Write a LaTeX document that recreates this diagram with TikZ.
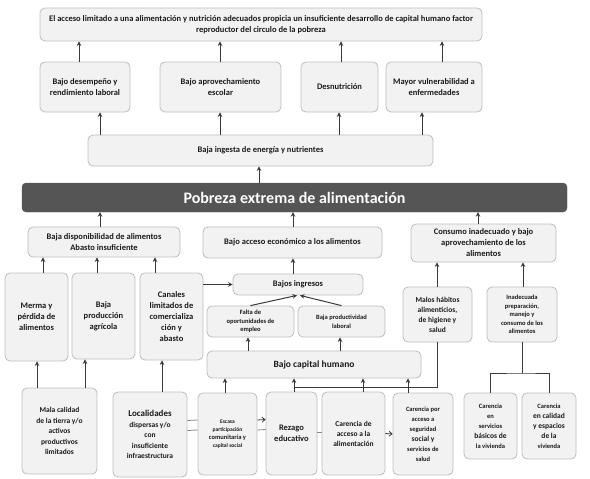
\documentclass[tikz,border=0pt]{standalone}
\usepackage{fontspec}
\setmainfont{Carlito}
\usetikzlibrary{arrows.meta}
\definecolor{boxfill}{HTML}{F2F2F2}
\definecolor{boxline}{HTML}{BDBDBD}
\definecolor{bar}{HTML}{555555}
\definecolor{ink}{HTML}{1A1A1A}
\definecolor{wire}{HTML}{3A3A3A}
\tikzset{
  box/.style={draw=boxline, fill=boxfill, rounded corners=5pt, line width=0.8pt,
    align=center, text=ink, font=\bfseries\fontsize{8.5}{11}\selectfont, inner sep=1pt},
  arr/.style={-{Stealth[length=4.5pt,width=4.5pt]}, draw=wire, line width=1pt},
  ln/.style={draw=wire, line width=1pt},
  sln/.style={draw=boxline!70!black, line width=0.8pt},
  barb/.style={-{Straight Barb[length=3pt,width=5pt]}, draw=wire},
}
\begin{document}
\begin{tikzpicture}[x=1pt,y=-1pt]
\useasboundingbox (0,0) rectangle (590,479);
% top
\node[box, minimum width=442, minimum height=33] (top) at (261,24.5)
 {El acceso limitado a una alimentación y nutrición adecuados propicia un insuficiente desarrollo de capital humano factor\\reproductor del circulo de la pobreza};
% row 2
\node[box, minimum width=90, minimum height=50] (bd) at (85,87) {Bajo desempeño y\\rendimiento laboral};
\node[box, minimum width=121, minimum height=50] (ba) at (220.5,87) {Bajo aprovechamiento\\escolar};
\node[box, minimum width=77, minimum height=50] (desn) at (339.5,87) {Desnutrición};
\node[box, minimum width=96, minimum height=50] (mv) at (434,87) {Mayor vulnerabilidad a\\enfermedades};
% ingesta
\node[box, minimum width=345, minimum height=31] (ing) at (260.5,150.5) {Baja ingesta de energía y nutrientes};
% pobreza
\node[draw=bar, fill=bar, rounded corners=4pt, minimum width=545, minimum height=29, text=white,
  font=\bfseries\fontsize{16}{18}\selectfont] (pob) at (294.5,197.5) {Pobreza extrema de alimentación};
% level 3
\node[box, minimum width=152, minimum height=30] (disp) at (104,242) {Baja disponibilidad de alimentos\\Abasto insuficiente};
\node[box, minimum width=179, minimum height=31] (acc) at (292.5,242.5) {Bajo acceso económico a los alimentos};
\node[box, minimum width=145, minimum height=38] (cons) at (483.5,243) {Consumo inadecuado y bajo\\aprovechamiento de los\\alimentos};
% level 4 left
\node[box, minimum width=63, minimum height=88] (merma) at (36.5,317) {Merma y\\pérdida de\\alimentos};
\node[box, minimum width=63, minimum height=86] (bprod) at (103.5,316) {Baja\\producción\\agrícola};
\node[box, minimum width=63, minimum height=87] (can) at (171.5,316.5) {Canales\\limitados de\\comercializa\\ción y\\abasto};
% middle
\node[box, minimum width=130, minimum height=21] (ingr) at (298,284.5) {Bajos ingresos};
\node[box, minimum width=87, minimum height=31, font=\bfseries\fontsize{6.5}{8.5}\selectfont] (falta) at (250.5,321.5) {Falta de\\oportunidades de\\empleo};
\node[box, minimum width=87, minimum height=31, font=\bfseries\fontsize{6.5}{8.5}\selectfont] (bpl) at (341.5,321.5) {Baja productividad\\laboral};
\node[box, minimum width=214, minimum height=27, font=\bfseries\fontsize{9.5}{11}\selectfont] (cap) at (314,364.5) {Bajo capital humano};
% right
\node[box, minimum width=69, minimum height=55, font=\bfseries\fontsize{7.5}{10}\selectfont] (malos) at (437.5,314.5) {Malos hábitos\\alimenticios,\\de higiene y\\salud};
\node[box, minimum width=70, minimum height=55, font=\bfseries\fontsize{6.5}{8.5}\selectfont] (inad) at (522,314.5) {Inadecuada\\preparación,\\manejo y\\consumo de los\\alimentos};
% bottom
\node[box, minimum width=75, minimum height=86, font=\bfseries\fontsize{7.5}{10.5}\selectfont] (mala) at (59.5,431) {Mala calidad\\de la tierra y/o\\activos\\productivos\\limitados};
\node[box, minimum width=74, minimum height=85, font=\bfseries\fontsize{7.5}{10.5}\selectfont] (loc) at (150,434.5) {{\fontsize{9}{11}\selectfont Localidades}\\dispersas y/o\\con\\insuficiente\\infraestructura};
\node[box, minimum width=59, minimum height=82, font=\bfseries\fontsize{5.5}{8}\selectfont] (esc) at (227.5,434) {Escasa\\participación\\{\fontsize{6.5}{8}\selectfont comunitaria y}\\capital social};
\node[box, minimum width=51, minimum height=83] (rez) at (291.5,433.5) {Rezago\\educativo};
\node[box, minimum width=63, minimum height=83, font=\bfseries\fontsize{7.5}{10}\selectfont] (cacc) at (353.5,433.5) {Carencia de\\acceso a la\\alimentación};
\node[box, minimum width=60, minimum height=82, font=\bfseries\fontsize{6.5}{10}\selectfont] (cpor) at (423,434) {Carencia por\\acceso a\\seguridad\\{\fontsize{7.5}{10}\selectfont social y}\\servicios de\\salud};
\node[box, minimum width=53, minimum height=66, font=\bfseries\fontsize{6.5}{10}\selectfont] (cser) at (490.5,426) {Carencia\\en\\servicios\\{\fontsize{7.5}{10}\selectfont básicos de}\\la vivienda};
\node[box, minimum width=54, minimum height=66, font=\bfseries\fontsize{6.5}{10}\selectfont] (ccal) at (549,426) {Carencia\\{\fontsize{7.5}{10}\selectfont en calidad}\\{\fontsize{7.5}{10}\selectfont y espacios}\\{\fontsize{7.5}{10}\selectfont de la}\\vivienda};

% x-positions
\foreach \n/\x in {a/79,b/220,c/341,d/442,e/100,f/339,g/422,h/259,i/293,j/478,k/43,l/97,m/155,n/248,o/340,p/437,q/523,r/37,s/85,t/162,u/225,v/294,w/363,z/408}
  \coordinate (X\n) at (\x,0);

% arrows to top
\draw[arr] (bd.north -| Xa) -- (top.south -| Xa);
\draw[arr] (ba.north -| Xb) -- (top.south -| Xb);
\draw[arr] (desn.north -| Xc) -- (top.south -| Xc);
\draw[arr] (mv.north -| Xd) -- (top.south -| Xd);
% ingesta to row 2
\draw[arr] (ing.north -| Xe) -- (bd.south -| Xe);
\draw[arr] (ing.north -| Xb) -- (ba.south -| Xb);
\draw[arr] (ing.north -| Xf) -- (desn.south -| Xf);
\draw[arr] (ing.north -| Xg) -- (mv.south -| Xg);
% pobreza
\draw[arr] (pob.north -| Xh) -- (ing.south -| Xh);
\draw[arr] (disp.north -| Xe) -- (pob.south -| Xe);
\draw[arr] (acc.north -| Xi) -- (pob.south -| Xi);
\draw[arr] (cons.north -| Xj) -- (pob.south -| Xj);
% to disp
\draw[arr] (merma.north -| Xk) -- (disp.south -| Xk);
\draw[arr] (bprod.north -| Xl) -- (disp.south -| Xl);
\draw[arr] (can.north -| Xm) -- (disp.south -| Xm);
% ingresos
\draw[arr] (ingr.north -| Xi) -- (acc.south -| Xi);
\draw[arr] (can.east |- ingr.west) -- (ingr.west);
\draw[arr] (falta.north) -- ([xshift=-1]ingr.south);
\draw[arr] (bpl.north) -- ([xshift=2]ingr.south);
\draw[arr] (cap.north -| Xn) -- (falta.south -| Xn);
\draw[arr] (cap.north -| Xo) -- (bpl.south -| Xo);
% consumo
\draw[arr] (malos.north -| Xp) -- (cons.south -| Xp);
\draw[arr] (inad.north -| Xq) -- (cons.south -| Xq);
% bottom left
\draw[arr] (mala.north -| Xr) -- (merma.south -| Xr);
\draw[arr] (mala.north -| Xs) -- (bprod.south -| Xs);
\draw[arr] (loc.north -| Xt) -- (can.south -| Xt);
% to capital
\draw[arr] (esc.north -| Xu) -- (cap.south -| Xu);
\draw[arr] (rez.north -| Xv) -- (cap.south -| Xv);
\draw[arr] (cacc.north -| Xw) -- (cap.south -| Xw);
\draw[arr] (cpor.north -| Xz) -- (cap.south -| Xz);
% malos to junction
\coordinate (jn) at (294,387);
\draw[ln] (malos.south) |- (jn);
% inadecuada tree
\coordinate (tr) at (522,373);
\draw[ln] (inad.south) -- (tr);
\draw[ln] (cser.north) |- (tr) -| (ccal.north);
% bottom horizontal links
\draw[sln] ([yshift=14]loc.east) -- ([yshift=14]esc.west);
\draw[sln] ([yshift=4]loc.east) -- ([yshift=4]esc.west);
\draw[sln,barb] ([yshift=14]esc.east) -- ([yshift=14]rez.west);
\draw[sln] ([yshift=4]esc.east) -- ([yshift=4]rez.west);
\draw[sln] ([yshift=1]rez.east) -- ([yshift=1]cacc.east -| cacc.west);
\draw[sln,barb] (cacc.east) -- (cpor.west);
\end{tikzpicture}
\end{document}
